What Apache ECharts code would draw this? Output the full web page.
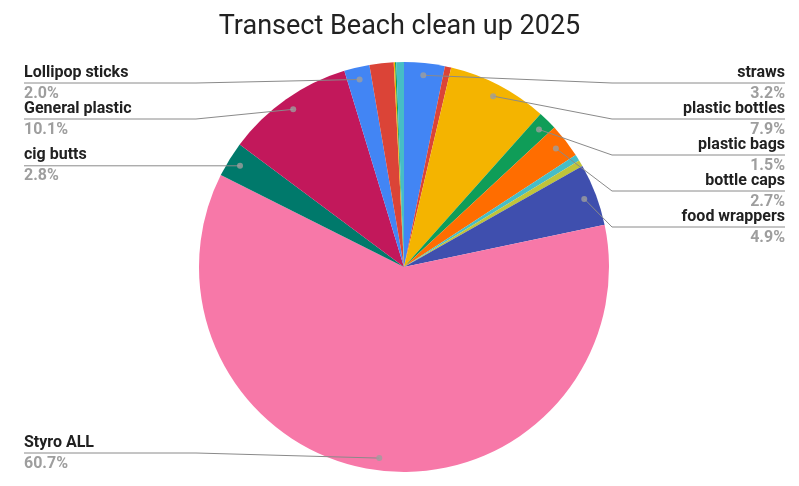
<!DOCTYPE html>
<html><head><meta charset="utf-8">
<script src="https://cdn.jsdelivr.net/npm/echarts@6/dist/echarts.min.js"></script>
<style>html,body{margin:0;padding:0;background:#fff}#c{width:799px;height:486px}</style>
</head><body><div id="c"></div>
<script>
const categories = ['straws','Other A','plastic bottles','plastic bags','bottle caps','Other B','Other C','food wrappers','Styro ALL','cig butts','General plastic','Lollipop sticks','Other D','Other E','Other F','Other G'];
const values = [3.2, 0.5, 7.9, 1.5, 2.7, 0.5, 0.5, 4.9, 60.7, 2.8, 10.1, 2.0, 1.9, 0.1, 0.1, 0.6];
const labeledCategories = ['straws','plastic bottles','plastic bags','bottle caps','food wrappers','Styro ALL','cig butts','General plastic','Lollipop sticks'];
const palette = ['#4285F4','#DB4437','#F4B400','#0F9D58','#FF6D00','#46BDC6','#C0C43A','#3F4FAE','#F778A8','#00796B','#C2185B','#4285F4','#DB4437','#F4B400','#0F9D58','#46BDC6'];

const CX = 404, CY = 267, R = 205, DOT = 0.94;
const total = values.reduce((a, b) => a + b, 0);
let acc = 0;
const mids = values.map(v => { const m = acc + v / 2; acc += v; return m; });
function dotXY(i) { const a = mids[i] / total * 2 * Math.PI; return [CX + R * DOT * Math.sin(a), CY - R * DOT * Math.cos(a)]; }
const isRight = i => mids[i] / total < 0.5;

const TOP = 83, BOTTOM = 453, GAP = 36;
const lineY = {};
['right', 'left'].forEach(side => {
  const idx = categories.map((c, i) => i).filter(i => labeledCategories.includes(categories[i]) && (isRight(i) === (side === 'right')));
  idx.sort((a, b) => dotXY(a)[1] - dotXY(b)[1]);
  const ys = idx.map(i => Math.min(Math.max(dotXY(i)[1], TOP), BOTTOM));
  for (let k = 1; k < ys.length; k++) ys[k] = Math.max(ys[k], ys[k - 1] + GAP);
  if (ys.length) {
    ys[ys.length - 1] = Math.min(ys[ys.length - 1], BOTTOM);
    for (let k = ys.length - 2; k >= 0; k--) ys[k] = Math.min(ys[k], ys[k + 1] - GAP);
  }
  idx.forEach((i, k) => lineY[i] = ys[k]);
});
const labeledIdx = categories.map((c, i) => i).filter(i => labeledCategories.includes(categories[i]));

const chart = echarts.init(document.getElementById('c'), null, { renderer: 'canvas' });
chart.setOption({
  animation: false,
  backgroundColor: '#ffffff',
  title: {
    text: 'Transect Beach clean up 2025', left: 'center', top: 9, padding: [5, 0, 5, 9],
    textStyle: { fontFamily: 'Roboto', fontWeight: 'normal', fontSize: 27, color: '#222222' }
  },
  polar: { center: [CX, CY], radius: R },
  angleAxis: { type: 'value', min: 0, max: total, startAngle: 90, clockwise: true, show: false },
  radiusAxis: { type: 'value', min: 0, max: 1, show: false },
  series: [
    {
      type: 'pie', center: [CX, CY], radius: R, startAngle: 90, clockwise: true, z: 2,
      emphasis: { disabled: true },
      itemStyle: { borderWidth: 0 },
      data: categories.map((c, i) => {
        const lab = labeledCategories.includes(c);
        return { name: c, value: values[i], itemStyle: { color: palette[i] }, label: { show: lab } };
      }),
      label: {
        formatter: p => '{n|' + p.name + '}\n{p|' + (p.value / total * 100).toFixed(1) + '%}',
        rich: {
          n: { fontFamily: 'Roboto', fontWeight: 'bold', fontSize: 16, color: '#212121', lineHeight: 21 },
          p: { fontFamily: 'Roboto', fontWeight: 'bold', fontSize: 16, color: '#9E9E9E', lineHeight: 21 }
        }
      },
      labelLine: { show: false },
      labelLayout: function (p) {
        const i = p.dataIndex;
        if (!(i in lineY)) return {};
        const right = isRight(i);
        return { x: right ? 785 : 24, y: lineY[i], align: right ? 'right' : 'left', verticalAlign: 'middle' };
      }
    },
    {
      type: 'custom', coordinateSystem: 'polar', silent: true, z: 4,
      data: labeledIdx.map(i => [DOT, mids[i], i]),
      renderItem: function (params, api) {
        const i = api.value(2);
        const d = api.coord([api.value(0), api.value(1)]);
        const right = isRight(i);
        const y = lineY[i];
        const ex = right ? CX + R + 3 : CX - R - 3;
        const edge = right ? 785 : 24;
        return { type: 'polyline', shape: { points: [d, [ex, y], [edge, y]] }, style: { stroke: '#8a8a8a', lineWidth: 1, fill: null } };
      }
    },
    {
      type: 'scatter', coordinateSystem: 'polar', symbol: 'circle', symbolSize: 6,
      itemStyle: { color: '#9E9E9E' }, silent: true, z: 5,
      data: labeledIdx.map(i => [DOT, mids[i]])
    }
  ]
});
</script></body></html>
